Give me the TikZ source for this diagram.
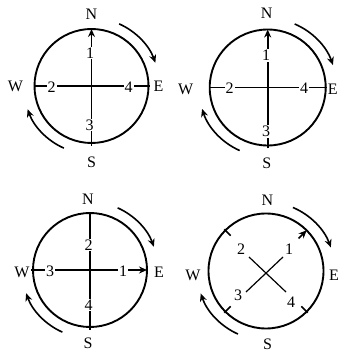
\documentclass[tikz,border=0pt]{standalone}
\usepackage{fontspec}
\setmainfont{Liberation Serif}
\usetikzlibrary{arrows.meta}

\begin{document}
\begin{tikzpicture}[x=1pt,y=1pt,
  ring/.style={line width=1.9pt},
  axis/.style={line width=1.6pt},
  headtip/.style={-{Stealth[length=8pt,width=7pt]}},
  turn/.style={line width=1.6pt,headtip},
  lbl/.style={font=\fontsize{16}{18}\selectfont,inner sep=1pt},
  num/.style={lbl,fill=white}]
  \useasboundingbox (0,0) rectangle (342,354);

  % top left
  \begin{scope}[shift={(91.5,268)}]
    \draw[ring] (0,0) circle (57);
    \coordinate (aN) at (0,57);
    \coordinate (aS) at (0,-60);
    \coordinate (aW) at (-57,0);
    \coordinate (aE) at (58,0);
    \draw[axis,headtip] (aS) -- (aN);
    \draw[axis] (aW) -- (aE);
    \node[num] (a1) at (-1.5,33) {1};
    \node[num] (a2) at (-40,-1) {2};
    \node[num] (a3) at (-2,-39) {3};
    \node[num] (a4) at (37,-1) {4};
    \node[lbl] (aNl) at (0,72) {N};
    \node[lbl] (aSl) at (0,-76) {S};
    \node[lbl] (aWl) at (-76,0) {W};
    \node[lbl] (aEl) at (67,0) {E};
    \draw[turn] (66:68) arc (66:20:68);
    \draw[turn] (246:68) arc (246:200:68);
  \end{scope}

  % top right
  \begin{scope}[shift={(267.7,266.5)}]
    \draw[ring] (0,0) circle (58);
    \coordinate (bN) at (0,58);
    \coordinate (bS) at (0,-61);
    \coordinate (bW) at (-58,0);
    \coordinate (bE) at (59,0);
    \draw[axis,headtip] (bS) -- (bN);
    \draw[axis] (bW) -- (bE);
    \node[num] (b1) at (-1.5,32) {1};
    \node[num] (b2) at (-38,-0.5) {2};
    \node[num] (b3) at (-1.5,-44) {3};
    \node[num] (b4) at (36.5,-0.5) {4};
    \node[lbl] (bNl) at (-1,74) {N};
    \node[lbl] (bSl) at (-1,-76) {S};
    \node[lbl] (bWl) at (-82,-2) {W};
    \node[lbl] (bEl) at (65,-2) {E};
    \draw[turn] (67:69) arc (67:19:69);
    \draw[turn] (246:69) arc (246:198:69);
  \end{scope}

  % bottom left
  \begin{scope}[shift={(90,84)}]
    \draw[ring] (0,0) circle (57);
    \coordinate (cN) at (0,58);
    \coordinate (cS) at (0,-60);
    \coordinate (cW) at (-59,0);
    \coordinate (cE) at (57,0);
    \draw[axis] (cS) -- (cN);
    \draw[axis,headtip] (cW) -- (cE);
    \node[num] (c1) at (33,-1) {1};
    \node[num] (c2) at (-1.5,25) {2};
    \node[num] (c3) at (-40,-1) {3};
    \node[num] (c4) at (-1.5,-35) {4};
    \node[lbl] (cNl) at (-2,71) {N};
    \node[lbl] (cSl) at (-2,-73) {S};
    \node[lbl] (cWl) at (-68,-2) {W};
    \node[lbl] (cEl) at (69,-2) {E};
    \draw[turn] (66:68) arc (66:20:68);
    \draw[turn] (246:68) arc (246:200:68);
  \end{scope}

  % bottom right
  \begin{scope}[shift={(266,83)}]
    \draw[ring] (0,0) circle (57.5);
    \coordinate (d1) at (17,14);
    \coordinate (d2) at (-17,14);
    \coordinate (d3) at (-20,-21);
    \coordinate (d4) at (20,-21);
    \draw[axis,line width=1.2pt] (d2) -- (d4);
    \draw[axis,line width=1.2pt] (d3) -- (d1);
    \coordinate (dNEi) at (45:46);
    \coordinate (dNEo) at (45:57.5);
    \draw[axis,headtip] (dNEi) -- (dNEo);
    \coordinate (dNWi) at (135:50);
    \coordinate (dNWo) at (135:59);
    \draw[axis] (dNWi) -- (dNWo);
    \coordinate (dSWi) at (225:50);
    \coordinate (dSWo) at (225:59);
    \draw[axis] (dSWi) -- (dSWo);
    \coordinate (dSEi) at (315:50);
    \coordinate (dSEo) at (315:59);
    \draw[axis] (dSEi) -- (dSEo);
    \node[lbl] (d1l) at (23,22) {1};
    \node[lbl] (d2l) at (-25,22) {2};
    \node[lbl] (d3l) at (-28,-24) {3};
    \node[lbl] (d4l) at (25,-31) {4};
    \node[lbl] (dNl) at (1.5,71) {N};
    \node[lbl] (dSl) at (1.5,-73) {S};
    \node[lbl] (dWl) at (-73,-4) {W};
    \node[lbl] (dEl) at (68,-4) {E};
    \draw[turn] (67:69) arc (67:20:69);
    \draw[turn] (246:69) arc (246:199:69);
  \end{scope}
\end{tikzpicture}
\end{document}
